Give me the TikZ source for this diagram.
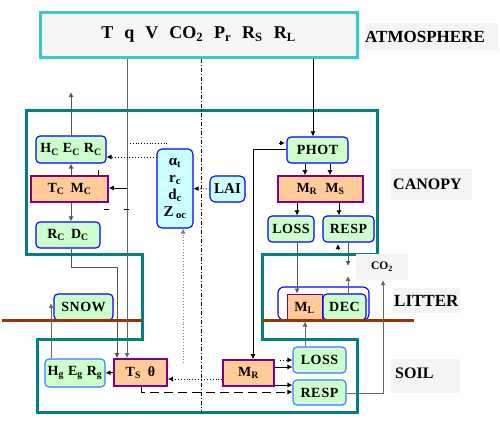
\documentclass[tikz,border=0pt]{standalone}
\usepackage{fontspec}
\setmainfont{Liberation Serif}
\usetikzlibrary{arrows.meta}
\definecolor{tealc}{RGB}{0,128,128}
\definecolor{brownc}{RGB}{153,51,0}
\definecolor{cyanb}{RGB}{51,204,204}
\definecolor{lgreen}{RGB}{204,255,204}
\definecolor{lorange}{RGB}{255,204,153}
\definecolor{lcyan}{RGB}{204,255,255}
\definecolor{purp}{RGB}{128,0,128}
\definecolor{bgray}{RGB}{244,244,244}
\definecolor{atmfill}{RGB}{246,246,246}
\definecolor{lineg}{RGB}{85,85,85}
\definecolor{lblue}{RGB}{60,120,255}
\newcommand\sbs[1]{\textsubscript{#1}}
\begin{document}
\begin{tikzpicture}[x=1pt,y=-1pt,
  boxfont/.style={font=\fontsize{14}{15}\selectfont\bfseries\addfontfeature{LetterSpace=4}},
  gbox/.style={draw=blue, fill=lgreen, rounded corners=4pt, line width=1.1pt, inner sep=0pt, boxfont},
  obox/.style={draw=purp, fill=lorange, line width=1.6pt, inner sep=0pt, boxfont},
  cbox/.style={draw=blue, fill=lcyan, rounded corners=5pt, line width=1.1pt, inner sep=0pt, boxfont},
  lbl/.style={fill=bgray, inner sep=0pt, align=left, anchor=north west},
  conn/.style={draw=lineg, line width=0.9pt, -{Latex[length=5pt,width=5pt]}},
  dotc/.style={draw=black, dotted, line width=0.9pt, -{Latex[length=5pt,width=5pt]}},
  dashc/.style={draw=black, dash pattern=on 9pt off 5pt, line width=0.9pt, -{Latex[length=5pt,width=5pt]}},
  dashdot/.style={draw=black, line width=0.8pt, dash pattern=on 4pt off 2pt on 1pt off 2pt}
]
\useasboundingbox (0,0) rectangle (500,423);

% region outline
\draw[tealc, line width=3pt] (26,110) -- (377,110) -- (377,254) -- (262,254) -- (262,339)
  -- (357,339) -- (357,412) -- (37,412) -- (37,339) -- (142,339) -- (142,254) -- (26,254) -- cycle;

% atmosphere
\node[draw=cyanb, fill=atmfill, line width=3pt, minimum width=317pt, minimum height=45pt, inner sep=0pt,
  font=\fontsize{18}{20}\selectfont\bfseries] (atm) at (198.5,34.5)
  {\raisebox{3pt}{T\hspace{11pt}q\hspace{11pt}V\hspace{11pt}CO\sbs{2}\hspace{11pt}P\sbs{r}\hspace{11pt}R\sbs{S}\hspace{11pt}R\sbs{L}}};

% labels
\node[lbl, minimum height=27pt, text width=133pt, font=\fontsize{17}{18}\selectfont\bfseries] (atmlbl) at (365,23) {ATMOSPHERE};
\node[lbl, minimum height=31pt, text width=81pt, font=\fontsize{16}{18}\selectfont\bfseries] (canlbl) at (391,169) {\hspace{2pt}CANOPY};
\node[lbl, minimum height=25pt, text width=67pt, font=\fontsize{17}{18}\selectfont\bfseries] (litlbl) at (393,288) {\hspace{1pt}LITTER};
\node[lbl, minimum height=34pt, text width=69pt, font=\fontsize{16}{18}\selectfont\bfseries] (soillbl) at (391,359) {\raisebox{6pt}{\hspace{4pt}SOIL}};
\node[fill=bgray, inner sep=0pt, minimum width=52pt, minimum height=26pt, font=\fontsize{11.5}{12}\selectfont\bfseries] (co2) at (382,267) {CO\sbs{2}};

% canopy nodes
\node[gbox, minimum width=70pt, minimum height=27pt] (hc) at (71,149.5) {H\sbs{C} E\sbs{C} R\sbs{C}};
\node[obox, minimum width=77pt, minimum height=26pt] (tc) at (69.5,189) {T\sbs{C}\hspace{6pt}M\sbs{C}};
\node[gbox, minimum width=64pt, minimum height=26pt] (rc) at (68,235) {R\sbs{C}\hspace{6pt}D\sbs{C}};
\node[cbox, minimum width=36pt, minimum height=79pt, align=center, font=\fontsize{15}{16}\selectfont\bfseries] (alpha) at (175,188.5)
  {α\sbs{t}\\[1pt] r\sbs{c}\\[1pt] d\sbs{c}\\[1pt] Z\,\sbs{oc}};
\node[cbox, minimum width=35pt, minimum height=26pt, font=\fontsize{15}{16}\selectfont\bfseries] (lai) at (227.5,189) {LAI};
\node[gbox, minimum width=61pt, minimum height=26pt] (phot) at (317.5,150) {PHOT};
\node[obox, minimum width=85pt, minimum height=26pt] (mrms) at (320.5,189) {M\sbs{R}\hspace{8pt}M\sbs{S}};
\node[gbox, minimum width=46pt, minimum height=26pt] (lossc) at (291,229) {LOSS};
\node[gbox, minimum width=51pt, minimum height=26pt] (respc) at (348.5,229) {RESP};

% litter nodes
\node[draw=blue, rounded corners=6pt, line width=1.1pt, minimum width=91pt, minimum height=33pt, inner sep=0pt] (litbox) at (323.5,303.5) {};
\node[draw=purp, fill=lorange, line width=1pt, inner sep=0pt, minimum width=35pt, minimum height=27pt, boxfont] (ml) at (304.5,307.5) {M\sbs{L}};
\node[gbox, minimum width=43pt, minimum height=26pt] (dec) at (344.5,307) {DEC};
\node[gbox, minimum width=59pt, minimum height=26pt] (snow) at (83.5,307) {SNOW};

% soil nodes
\node[gbox, draw=lblue, minimum width=60pt, minimum height=28pt] (hg) at (75,373) {H\sbs{g} E\sbs{g} R\sbs{g}};
\node[obox, minimum width=53pt, minimum height=27pt] (ts) at (140.5,372.5) {T\sbs{S}\hspace{7pt}θ};
\node[obox, minimum width=51pt, minimum height=26pt] (mr) at (248.5,373) {M\sbs{R}};
\node[gbox, draw=lblue, minimum width=53pt, minimum height=26pt] (losss) at (319.5,360) {LOSS};
\node[gbox, draw=lblue, minimum width=53pt, minimum height=25pt] (resps) at (319.5,392.5) {RE\hspace{1pt}SP};

% ground line
\draw[brownc, line width=3pt] (2,320) -- (142,320);
\draw[brownc, line width=3pt] (262,320) -- (414,320);

% helper coordinates
\coordinate (c127) at (127,0);
\coordinate (c313) at (313,0);
\coordinate (c201) at (201,0);
\coordinate (cbot) at (0,413);
\coordinate (hcup) at (71,92);
\coordinate (rcbend) at (117,267);
\coordinate (snowar) at (51,303);
\coordinate (y379) at (0,379);
\coordinate (tsd) at (141,392);
\coordinate (photl) at (253,149);
\coordinate (c305) at (305,0);
\coordinate (c330) at (330,0);
\coordinate (c297) at (297,0);
\coordinate (c339) at (339,0);
\coordinate (co2a) at (348,266);
\coordinate (co2b) at (348,276);
\coordinate (co2c) at (383,393);
\coordinate (y367) at (0,367);
\coordinate (y385) at (0,385);
\coordinate (ls) at (280,360);
\coordinate (y157) at (0,157);
\coordinate (al) at (183,363);
\coordinate (y188) at (127,188);
\coordinate (d1) at (104,209);
\coordinate (d2) at (131,209);
\coordinate (tk) at (98,170);
\coordinate (p1) at (130,143);
\coordinate (p2) at (167,143);
\coordinate (p3) at (279,143);
\coordinate (p4) at (285,143);
\coordinate (u1) at (338,250);
\coordinate (u2) at (338,244);

% connectors
\draw[conn, draw=gray!80!black] (atm.south -| c127) -- (ts.north -| c127);
\draw[conn, draw=black] (atm.south -| c313) -- (phot.north -| c313);
\draw[dashdot] (atm.south -| c201) -- (c201 |- cbot);
\draw[conn] (hc.north -| hcup) -- (hcup);
\draw[conn] (tc.north -| hcup) -- (hc.south -| hcup);
\draw[conn] (tc.south -| hcup) -- (rc.north -| hcup);
\draw[conn] (rc.south -| hcup) |- (rcbend) -- (ts.north -| rcbend);
\draw[conn, draw=gray!80!black] (hg.north -| snowar) -- (snowar);
\draw[conn, draw=black] (ts.west) -- (hg.east);
\draw[dotc] (mr.west |- y379) -- (ts.east |- y379);
\draw[dashc] (ts.south -| tsd) |- (resps.west |- tsd);
\draw[conn, draw=black] (phot.west |- photl) -| (mr.north -| photl);
\draw[conn, draw=black] (phot.south -| c305) -- (mrms.north -| c305);
\draw[conn, draw=black] (phot.south -| c330) -- (mrms.north -| c330);
\draw[conn, draw=black] (mrms.south -| c297) -- (lossc.north -| c297);
\draw[conn, draw=black] (mrms.south -| c339) -- (respc.north -| c339);
\draw[conn] (lossc.south -| c297) -- (ml.north -| c297);
\draw[conn, draw=gray!80!black] (losss.north -| c305) -- (ml.south -| c305);
\draw[conn] (respc.south -| co2a) -- (co2a);
\draw[conn, draw=gray!80!black] (dec.north -| co2b) -- (co2b);
\draw[conn, draw=gray!80!black] (resps.east |- co2c) -| (co2.south -| co2c);
\draw[conn, draw=black] (mr.east |- y367) -- (losss.west |- y367);
\draw[conn, draw=black] (mr.east |- y385) -- (resps.west |- y385);
\draw[dotc] (ls) -- (losss.west |- ls);
\draw[dotc] (alpha.west |- y157) -- (hc.east |- y157);
\draw[dotc] (lai.west) -- (alpha.east);
\draw[dotc, draw=gray] (al) -- (alpha.south -| al);
\draw[conn, draw=black] (y188) -- (tc.east |- y188);
\draw[draw=black, line width=1pt, dash pattern=on 5pt off 15pt] (d1) -- (d2);
\draw[black, line width=0.8pt] (tk) -- (tc.north -| tk);
\draw[black, dotted, line width=0.8pt] (p1) -- (p2);
\draw[conn, draw=black] (p3) -- (p4);
\draw[conn, draw=black] (u1) -- (u2);
\end{tikzpicture}
\end{document}
